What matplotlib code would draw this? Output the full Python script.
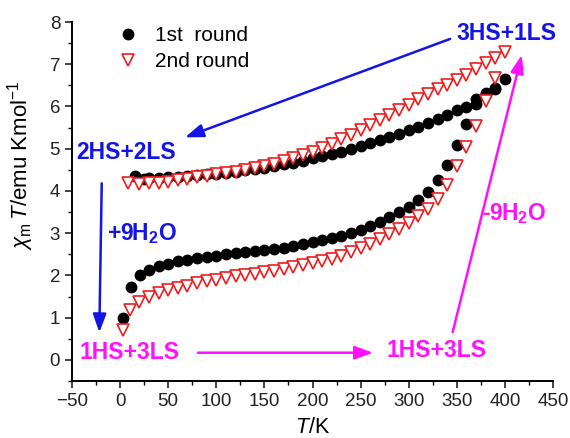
import numpy as np
import matplotlib
matplotlib.use('Agg')
import matplotlib.pyplot as plt

plt.rcParams['font.family'] = ['Liberation Sans', 'DejaVu Sans']
plt.rcParams['mathtext.fontset'] = 'custom'
plt.rcParams['mathtext.rm'] = 'Liberation Sans'
plt.rcParams['mathtext.it'] = 'Liberation Sans:italic'
plt.rcParams['mathtext.bf'] = 'Liberation Sans:bold'

# 1st round, heating branch (lower) and cooling branch (upper)
t1_heat = [3, 11, 21, 30, 40, 50, 60, 70, 80, 90, 100, 110, 120, 130, 140, 150, 160, 170,
           180, 190, 200, 210, 220, 230, 240, 250, 260, 270, 280, 290, 300, 310, 320, 330,
           340, 350, 360, 370, 380, 390, 400]
chi1_heat = [1.00, 1.73, 2.02, 2.13, 2.22, 2.28, 2.33, 2.37, 2.41, 2.44, 2.47, 2.50, 2.53,
             2.56, 2.58, 2.60, 2.63, 2.66, 2.70, 2.74, 2.78, 2.83, 2.88, 2.94, 3.00, 3.08,
             3.16, 3.26, 3.38, 3.50, 3.63, 3.78, 3.98, 4.27, 4.62, 5.10, 5.58, 6.05, 6.30,
             6.44, 6.66]
t1_cool = [390, 380, 370, 360, 350, 340, 330, 320, 310, 300, 290, 280, 270, 260, 250, 240,
           230, 220, 210, 200, 190, 180, 170, 160, 150, 140, 130, 120, 110, 100, 90, 80, 70,
           60, 50, 40, 30, 25, 16]
chi1_cool = [6.42, 6.32, 6.18, 5.98, 5.92, 5.80, 5.71, 5.60, 5.52, 5.44, 5.36, 5.28, 5.20,
             5.13, 5.06, 4.99, 4.93, 4.87, 4.82, 4.77, 4.72, 4.67, 4.63, 4.59, 4.55, 4.52,
             4.49, 4.46, 4.43, 4.41, 4.39, 4.37, 4.35, 4.33, 4.32, 4.31, 4.30, 4.29, 4.36]

# 2nd round
t2_heat = [3, 10, 20, 30, 40, 50, 60, 70, 80, 90, 100, 110, 120, 130, 140, 150, 160, 170,
           180, 190, 200, 210, 220, 230, 240, 250, 260, 270, 280, 290, 300, 310, 320, 330,
           340, 350, 360, 370, 380, 390, 400]
chi2_heat = [0.70, 1.18, 1.38, 1.50, 1.58, 1.65, 1.71, 1.76, 1.81, 1.86, 1.90, 1.94, 1.98,
             2.01, 2.04, 2.07, 2.11, 2.15, 2.19, 2.24, 2.29, 2.34, 2.40, 2.46, 2.55, 2.64,
             2.75, 2.86, 2.98, 3.10, 3.24, 3.40, 3.58, 3.82, 4.14, 4.58, 5.04, 5.55, 6.12,
             6.68, 7.28]
t2_cool = [390, 380, 370, 360, 350, 340, 330, 320, 310, 300, 290, 280, 270, 260, 250, 240,
           230, 220, 210, 200, 190, 180, 170, 160, 150, 140, 130, 120, 110, 100, 90, 80, 70,
           60, 50, 40, 30, 20, 8]
chi2_cool = [7.15, 7.02, 6.88, 6.74, 6.62, 6.52, 6.42, 6.30, 6.17, 6.04, 5.92, 5.80, 5.68,
             5.56, 5.44, 5.33, 5.22, 5.12, 5.02, 4.93, 4.85, 4.78, 4.71, 4.65, 4.60, 4.55,
             4.50, 4.46, 4.43, 4.40, 4.36, 4.32, 4.28, 4.25, 4.22, 4.20, 4.18, 4.17, 4.18]

blue = '#1414e6'
magenta = '#ff10ff'

fig = plt.figure(figsize=(5.7, 4.38), dpi=100)
ax = fig.add_axes([0.1263, 0.1301, 0.8439, 0.8196])

ax.plot(t1_heat + t1_cool, chi1_heat + chi1_cool, 'o', color='black', ms=7.5,
        label='1st  round', zorder=3)
ax.plot(t2_heat + t2_cool, chi2_heat + chi2_cool, 'v', mfc='white', mec='#ee1c1c',
        mew=1.2, ms=8.5, label='2nd round', zorder=4)

ax.set_xlim(-50, 450)
ax.set_ylim(-0.5, 8)
ax.set_xticks(np.arange(-50, 451, 50))
ax.set_yticks(np.arange(0, 9, 1))
ax.set_xticks(np.arange(-50, 451, 25), minor=True)
ax.set_yticks(np.arange(-0.5, 8.01, 0.5), minor=True)
ax.tick_params(which='major', direction='out', length=5, width=1.2, labelsize=13.5,
               colors='#222222')
ax.tick_params(which='minor', direction='out', length=3, width=1.0)
for s in ['top', 'right']:
    ax.spines[s].set_visible(False)
for s in ['left', 'bottom']:
    ax.spines[s].set_linewidth(1.4)

ax.set_xlabel(r'$T$/K', fontsize=15.5, labelpad=5)
ax.set_ylabel(r'$\chi_{\rm m}\,T$/emu Kmol$^{-1}$', fontsize=16)
ax.yaxis.set_label_coords(-0.075, 0.6)

ax.legend(loc='upper left', bbox_to_anchor=(0.055, 1.012), frameon=False, fontsize=15,
          handletextpad=0.3, labelspacing=0.35, borderaxespad=0)

arw = dict(arrowstyle='-|>,head_length=0.55,head_width=0.2', lw=1.8, mutation_scale=20,
           shrinkA=0, shrinkB=0)

ax.text(402, 7.74, '3HS+1LS', color=blue, fontsize=16.5, fontweight='bold',
        ha='center', va='center')
ax.annotate('', xy=(67.5, 5.27), xytext=(343, 7.6), arrowprops=dict(arw, color=blue))
ax.text(6, 4.92, '2HS+2LS', color=blue, fontsize=16.5, fontweight='bold',
        ha='center', va='center')
ax.annotate('', xy=(-21.6, 0.65), xytext=(-19.1, 4.18), arrowprops=dict(arw, color=blue))
ax.text(-13.6, 3.0, r'+9H$_\mathbf{2}$O', color=blue, fontsize=16.5, fontweight='bold',
        ha='left', va='center')

ax.text(9.3, 0.17, '1HS+3LS', color=magenta, fontsize=16.5, fontweight='bold',
        ha='center', va='center')
ax.annotate('', xy=(263, 0.17), xytext=(81, 0.17), arrowprops=dict(arw, color=magenta))
ax.text(328.4, 0.22, '1HS+3LS', color=magenta, fontsize=16.5, fontweight='bold',
        ha='center', va='center')
ax.annotate('', xy=(417.5, 7.22), xytext=(345.7, 0.66), arrowprops=dict(arw, color=magenta))
ax.text(409.5, 3.47, r'-9H$_\mathbf{2}$O', color=magenta, fontsize=16.5, fontweight='bold',
        ha='center', va='center')

fig.savefig('out.png', dpi=100)
